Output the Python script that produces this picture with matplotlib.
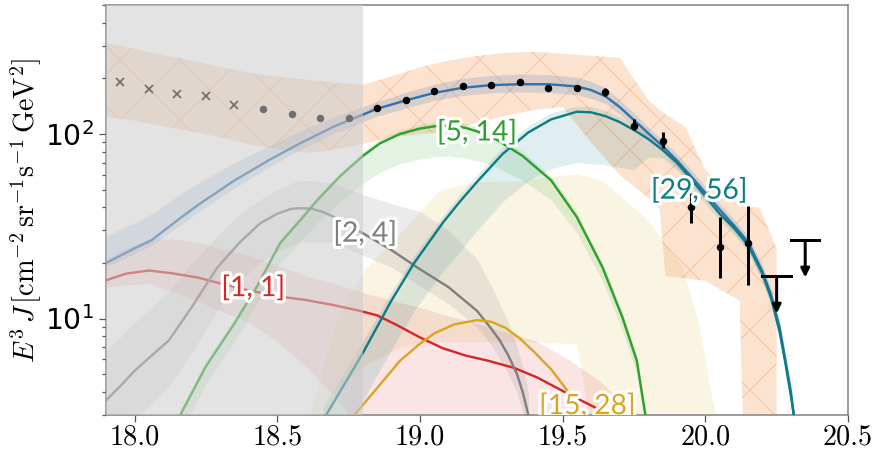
import numpy as np
import matplotlib
matplotlib.use('Agg')
from matplotlib import pyplot as plt
from matplotlib import patheffects as pe
from matplotlib.ticker import FixedLocator, FuncFormatter, NullFormatter

plt.rcParams['mathtext.fontset'] = 'cm'
plt.rcParams['hatch.linewidth'] = 0.5

# measured spectrum points
x_low = [17.95, 18.05, 18.15, 18.25, 18.35]
y_low = [192, 176, 165, 161, 144]
x_pts = [18.45, 18.55, 18.65, 18.75, 18.85, 18.95, 19.05, 19.15, 19.25, 19.35,
         19.45, 19.55, 19.65, 19.75, 19.85, 19.95, 20.05, 20.15]
y_pts = [137, 128, 122, 122, 138, 153, 171, 182, 185, 192,
         178, 178, 169, 110, 92, 40, 24.4, 25.6]
err_lo = [0, 0, 0, 0, 1, 1, 1, 1, 1, 1, 2, 4, 8, 5, 8, 7, 7.9, 10.5]
err_hi = [0, 0, 0, 0, 1, 1, 1, 1, 1, 2, 2, 4, 9, 10, 10, 8, 11, 15]
x_ul = [20.25, 20.35]
y_ul = [16.9, 26.5]

# systematic band of the data
x_sys = [17.9, 18.0, 18.1, 18.2, 18.3, 18.4, 18.5, 18.6, 18.7, 18.8, 18.9, 19.0, 19.1,
         19.2, 19.3, 19.4, 19.5, 19.6, 19.7, 19.8, 19.84, 19.86, 19.93, 20.0, 20.12,
         20.14, 20.19, 20.25]
hi_sys = [312, 290, 268, 250, 231, 215, 205, 197, 190, 185, 205, 230, 250,
          265, 275, 279, 272, 265, 259, 153, 135, 128, 109, 64, 42, 40, 40, 24]
lo_sys = [124, 118, 110, 103, 96, 88, 83, 79, 82, 88, 96, 100, 103,
          115, 125, 135, 140, 90, 60, 45, 39, 17, 16.5, 16, 12.5, 1, 1, 1]

# total model
x_tot = [17.9, 18.0, 18.06, 18.16, 18.23, 18.35, 18.47, 18.58, 18.7, 18.85, 18.95, 19.05,
         19.15, 19.25, 19.35, 19.45, 19.55, 19.6, 19.65, 19.7, 19.75, 19.8, 19.85, 19.9,
         19.95, 20.0, 20.05, 20.1, 20.15, 20.2, 20.23, 20.26, 20.28, 20.3, 20.31]
y_tot = [20, 24, 26.6, 35, 42, 56, 72, 89, 110, 137, 152, 167,
         178, 184, 186, 186, 181, 173, 160, 140, 119, 101, 86, 72,
         59, 48, 39, 32, 26, 18, 13.5, 9, 6, 4, 3]
hi_tot = [28, 33, 37, 47, 55, 70, 86, 104, 124, 150, 168, 186,
          200, 208, 211, 210, 203, 193, 178, 153, 130, 109, 93, 78,
          64, 52, 42, 34.5, 28, 19.5, 14.5, 9.8, 6.6, 4.4, 3.3]
lo_tot = [19, 22.5, 25, 32, 38.5, 51, 66, 82, 101, 125, 138, 152,
          162, 167, 169, 168, 163, 156, 146, 128, 109, 93, 80, 66,
          54, 44, 36, 29.5, 23.5, 16, 12, 8.2, 5.4, 3.6, 2.7]

# mass group [1, 1]
x_1 = [17.9, 17.97, 18.05, 18.13, 18.22, 18.3, 18.4, 18.5, 18.6, 18.7, 18.79, 18.85,
       18.92, 19.0, 19.08, 19.16, 19.24, 19.33, 19.41, 19.52, 19.63, 19.67]
y_1 = [16.1, 17.5, 18.2, 17.6, 16.7, 15.5, 14.2, 13.2, 12.6, 11.8, 11.0, 10.4,
       9.2, 7.9, 6.9, 6.3, 5.9, 5.4, 4.8, 3.9, 3.2, 2.9]
hi_1 = [21, 24, 27, 27, 26, 24, 22, 19.5, 17, 15.5, 14, 13.2,
        12.3, 11.5, 10.5, 9.8, 9, 8.2, 7.5, 6, 4.6, 4]
lo_1 = [14.7, 15.2, 15.5, 14, 12.5, 11, 9.5, 7.5, 5.5, 3.8, 2.5, 1.5,
        1, 1, 1, 1, 1, 1, 1, 1, 1, 1]

# mass group [2, 4]
x_2 = [17.9, 17.95, 18.0, 18.06, 18.12, 18.2, 18.29, 18.37, 18.44, 18.5, 18.55, 18.58,
       18.62, 18.66, 18.7, 18.8, 18.9, 19.0, 19.1, 19.2, 19.25, 19.28, 19.31, 19.34,
       19.36, 19.38]
y_2 = [3.6, 4.3, 5.2, 6.3, 7.6, 11.5, 18.9, 26, 32.8, 37, 39.3, 39.6,
       39.4, 37.8, 35.4, 29, 23.5, 18.5, 14.8, 11.0, 8.8, 7.6, 6.3, 5.0,
       4.0, 3.0]
hi_2 = [6.7, 7.9, 9.5, 11.5, 14, 20, 28, 37, 44, 50, 54, 56,
        56, 55, 54, 47, 42, 38, 30, 21, 15, 12, 9.5, 7,
        5.5, 4]
lo_2 = [1.8, 2.2, 2.8, 3.5, 4.3, 6.5, 11, 16, 20, 23, 25, 26,
        26, 26, 26, 22, 19, 15, 12, 9, 7.2, 6, 5, 4,
        3.1, 2.2]

# mass group [5, 14]
x_5 = [18.16, 18.25, 18.35, 18.43, 18.51, 18.58, 18.64, 18.72, 18.8, 18.86, 18.93, 19.0,
       19.05, 19.1, 19.16, 19.22, 19.27, 19.36, 19.46, 19.55, 19.64, 19.71, 19.76, 19.79]
y_5 = [3.0, 5.5, 9.4, 15, 25.6, 34, 43.7, 59, 76, 89, 100, 107,
       110, 111, 108, 101, 93, 76, 56, 35.4, 18.9, 10.1, 5.9, 3.0]
hi_5 = [3.2, 5.9, 10, 16, 27, 36, 46, 62, 80, 94, 105, 113,
        116, 117, 114, 107, 98, 80, 59, 37.5, 20, 10.8, 6.3, 3.2]
lo_5 = [2.4, 4.4, 7.5, 12, 20, 26, 33, 43, 54, 62, 69, 73,
        75, 76, 74, 70, 66, 56, 44, 29, 16, 8.6, 5.0, 2.5]

# mass group [15, 28]
x_15 = [18.77, 18.85, 18.93, 19.0, 19.05, 19.12, 19.2, 19.25, 19.3, 19.35, 19.4,
        19.46, 19.52, 19.58]
y_15 = [3.0, 4.2, 5.9, 7.3, 8.3, 9.3, 9.8, 9.6, 8.9, 7.8, 6.6,
        5.3, 4.0, 3.0]
x_15b = [18.6, 18.7, 18.8, 18.93, 19.07, 19.2, 19.35, 19.55, 19.64, 19.8, 19.92, 19.98, 20.02, 20.06]
hi_15 = [2.5, 9, 18, 29, 50, 55, 56, 61, 56, 34, 19, 9, 3.9, 2]
lo_15 = [1, 4, 5.5, 7, 7.5, 7.5, 7.5, 7.3, 1, 1, 1, 1, 1, 1]

# mass group [29, 56]
x_29 = [18.66, 18.8, 18.9, 18.98, 19.08, 19.14, 19.2, 19.29, 19.38, 19.46, 19.55,
        19.6, 19.65, 19.7, 19.75, 19.8, 19.85, 19.9, 19.95, 20.0, 20.05, 20.1,
        20.15, 20.2, 20.23, 20.26, 20.28, 20.3, 20.31]
y_29 = [2.8, 6.5, 12.5, 20, 33, 43, 55, 78, 102, 120, 132,
        131, 125, 116, 105, 94, 82, 70, 57, 46, 37, 31,
        25, 17.5, 13, 8.5, 5.8, 3.8, 3]
hi_29 = [3.3, 7.5, 14, 22, 36, 47, 60, 85, 111, 130, 142,
         141, 134, 124, 112, 100, 87, 74, 60, 48.5, 39, 32.5,
         26.3, 18.4, 13.7, 9, 6.1, 4, 3.2]
lo_29 = [1.5, 3.6, 6.8, 11, 18, 23, 30, 43, 56, 65, 70,
         69, 68, 66, 64, 75, 74, 64, 52, 42, 34, 28.5,
         23, 16, 12, 7.8, 5.3, 3.5, 2.7]

labels = ['[1, 1]', '[2, 4]', '[5, 14]', '[15, 28]', '[29, 56]']
lab_x = [18.416, 18.808, 19.2, 19.587, 19.979]
lab_y = [14.7, 29.0, 102.5, 3.37, 49.6]

c_tot = '#2f72b0'
c_1 = '#d62728'
c_2 = '#7f7f7f'
c_5 = '#2ca02c'
c_15 = '#daa520'
c_29 = '#0b7d84'

fig = plt.figure(figsize=(875 / 180, 451 / 180), dpi=180)
ax = fig.add_axes([106 / 875, 36 / 451, 742 / 875, 410 / 451])

ax.fill_between(x_sys, lo_sys, hi_sys, facecolor=(0.97, 0.6, 0.33, 0.27),
                edgecolor=(0.95, 0.6, 0.35, 0.35), hatch='x', linewidth=0, zorder=1)

ax.fill_between(x_15b, lo_15, hi_15, color=c_15, alpha=0.12, linewidth=0, zorder=1.5)
ax.fill_between(x_1, lo_1, hi_1, color=c_1, alpha=0.12, linewidth=0, zorder=1.6)
ax.fill_between(x_29, lo_29, hi_29, color=c_29, alpha=0.13, linewidth=0, zorder=1.7)
ax.fill_between(x_2, lo_2, hi_2, color=c_2, alpha=0.15, linewidth=0, zorder=1.8)
ax.fill_between(x_5, lo_5, hi_5, color=c_5, alpha=0.13, linewidth=0, zorder=1.9)
ax.fill_between(x_tot, lo_tot, hi_tot, color=c_tot, alpha=0.18, linewidth=0, zorder=2)

lw = 0.95
ax.plot(x_1, y_1, color=c_1, lw=lw, zorder=3)
ax.plot(x_2, y_2, color=c_2, lw=lw, zorder=3)
ax.plot(x_5, y_5, color=c_5, lw=lw, zorder=3)
ax.plot(x_15, y_15, color=c_15, lw=lw, zorder=3)
ax.plot(x_29, y_29, color=c_29, lw=lw, zorder=3.1)
ax.plot(x_tot, y_tot, color=c_tot, lw=lw, zorder=3.05)

# data
ax.plot(x_low, y_low, 'x', color='k', ms=3.4, mew=0.7, zorder=4)
ax.errorbar(x_pts, y_pts, yerr=[err_lo, err_hi], fmt='o', color='k', ms=2.0,
            elinewidth=1.2, capsize=0, zorder=4)
for xu, yu in zip(x_ul, y_ul):
    ax.plot([xu - 0.05, xu + 0.05], [yu, yu], color='k', lw=1.2, zorder=4)
    ax.annotate('', xy=(xu, yu * 0.63), xytext=(xu, yu),
                arrowprops=dict(arrowstyle='-|>', color='k', lw=1.2,
                                mutation_scale=7, shrinkA=0, shrinkB=0),
                zorder=4)

# region below threshold
ax.axvspan(17.9, 18.8, color='0.8', alpha=0.55, lw=0, zorder=5)

for t, xl, yl, c in zip(labels, lab_x, lab_y, [c_1, c_2, c_5, c_15, c_29]):
    ax.text(xl, yl, t, color=c, fontsize=11.3, family='Lato', ha='center', va='center',
            zorder=6, clip_on=True,
            path_effects=[pe.withStroke(linewidth=2.6, foreground='white')])

ax.set_yscale('log')
ax.set_xlim(17.9, 20.5)
ax.set_ylim(3, 500)
ax.xaxis.set_major_locator(FixedLocator([18.0, 18.5, 19.0, 19.5, 20.0, 20.5]))
ax.xaxis.set_major_formatter(FuncFormatter(lambda v, p: '%.1f' % v))
ax.yaxis.set_minor_formatter(NullFormatter())
ax.tick_params(which='both', labelsize=11.3, color='#555555', width=0.5, pad=2)
ax.tick_params(axis='x', labelfontfamily='cmr10', pad=1.0)
ax.tick_params(which='major', length=2.8)
ax.tick_params(which='minor', length=1.6)
for s in ax.spines.values():
    s.set_color('#808080')
    s.set_linewidth(0.6)

ax.set_ylabel(r'$E^3\,J\,[\mathrm{cm}^{-2}\,\mathrm{sr}^{-1}\mathrm{s}^{-1}\,\mathrm{GeV}^2]$',
              fontsize=11.3)
ax.yaxis.set_label_coords(-0.083, 0.5)

fig.savefig('out.png', dpi=180)
